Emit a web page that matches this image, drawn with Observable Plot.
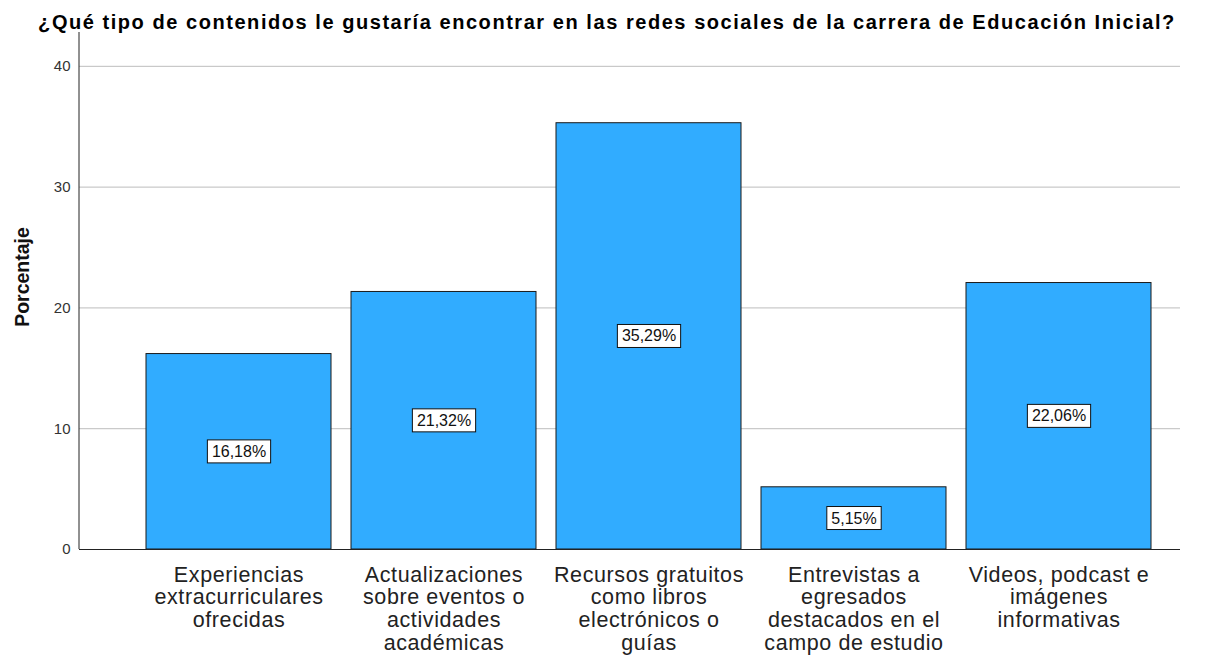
<!DOCTYPE html>
<html>
<head>
<meta charset="utf-8">
<script src="https://cdn.jsdelivr.net/npm/d3@7"></script>
<script src="https://cdn.jsdelivr.net/npm/@observablehq/plot@0.6"></script>
<style>
  html, body { margin: 0; padding: 0; background: #fff; }
  body { font-family: "Liberation Sans", Arial, sans-serif; width: 1210px; }
  #title { height: 32px; box-sizing: border-box; padding-top: 12px; line-height: 20px;
    font-weight: bold; font-size: 20px; letter-spacing: 1.55px; text-align: center; color: #000; white-space: nowrap; padding-left: 4px; }
</style>
</head>
<body>
<div id="title">¿Qué tipo de contenidos le gustaría encontrar en las redes sociales de la carrera de Educación Inicial?</div>
<div id="chart"></div>
<script>
const categories = [
  "Experiencias extracurriculares ofrecidas",
  "Actualizaciones sobre eventos o actividades académicas",
  "Recursos gratuitos como libros electrónicos o guías",
  "Entrevistas a egresados destacados en el campo de estudio",
  "Videos, podcast e imágenes informativas"
];
const tickLabels = [
  "Experiencias\nextracurriculares\nofrecidas",
  "Actualizaciones\nsobre eventos o\nactividades\nacadémicas",
  "Recursos gratuitos\ncomo libros\nelectrónicos o\nguías",
  "Entrevistas a\negresados\ndestacados en el\ncampo de estudio",
  "Videos, podcast e\nimágenes\ninformativas"
];
const percentages = [16.18, 21.32, 35.29, 5.15, 22.06];
const yTicks = [0, 10, 20, 30, 40];
const yLabel = "Porcentaje";

const data = categories.map((c, i) => ({category: c, value: percentages[i], label: percentages[i].toFixed(2).replace(".", ",") + "%"}));
const tickMap = new Map(categories.map((c, i) => [c, tickLabels[i]]));

const width = 1210, height = 623;
const chart = Plot.plot({
  width, height,
  marginLeft: 79, marginRight: 30, marginTop: 0, marginBottom: 106,
  style: {fontFamily: "'Liberation Sans', Arial, sans-serif", background: "#fff", overflow: "visible"},
  x: {domain: categories, range: [144.5, 1153], paddingInner: 0.1, paddingOuter: 0, label: null},
  y: {domain: [0, 42.8], label: null},
  marks: [
    Plot.ruleY(yTicks.filter(d => d > 0), {stroke: "#bdbdbd", strokeWidth: 1}),
    Plot.barY(data, {x: "category", y: "value", fill: "#31acff", stroke: "#1a1a1a", strokeWidth: 1}),
    Plot.text(data, {x: "category", y: d => d.value / 2, text: "label", fontSize: 16, fill: "#111", className: "vlabel", style: "letter-spacing:0.3px"}),
    Plot.ruleY([0], {stroke: "#222", strokeWidth: 1}),
    (index, scales, values, dims) => {
      const l = document.createElementNS("http://www.w3.org/2000/svg", "line");
      l.setAttribute("x1", dims.marginLeft); l.setAttribute("x2", dims.marginLeft);
      l.setAttribute("y1", dims.marginTop); l.setAttribute("y2", dims.height - dims.marginBottom);
      l.setAttribute("stroke", "#222");
      return l;
    },
    Plot.axisY({ticks: yTicks, tickSize: 0, tickPadding: 9, fontSize: 15, fill: "#333", label: null}),
    Plot.axisX({tickSize: 0, tickPadding: 16, fontSize: 21.5, lineHeight: 1.06, fill: "#222", tickFormat: d => tickMap.get(d), label: null, className: "xticks"}),
    Plot.text([yLabel], {frameAnchor: "left", textAnchor: "middle", dx: -57, dy: -14, rotate: -90, fontSize: 19.5, fontWeight: "bold", fill: "#111", text: d => d})
  ]
});
document.getElementById("chart").appendChild(chart);
d3.select(chart).selectAll("g.xticks text").style("letter-spacing", "0.6px");

// white boxes with black border behind value labels
d3.select(chart).selectAll("g.vlabel text").each(function() {
  const b = this.getBBox();
  const padX = 4.5, padY = 3;
  const r = document.createElementNS("http://www.w3.org/2000/svg", "rect");
  r.setAttribute("x", b.x - padX); r.setAttribute("y", b.y - padY);
  r.setAttribute("width", b.width + 2 * padX); r.setAttribute("height", b.height + 2 * padY);
  r.setAttribute("fill", "#fff"); r.setAttribute("stroke", "#111"); r.setAttribute("stroke-width", 1);
  const t = this.getAttribute("transform");
  if (t) r.setAttribute("transform", t);
  this.parentNode.insertBefore(r, this);
});
</script>
</body>
</html>
